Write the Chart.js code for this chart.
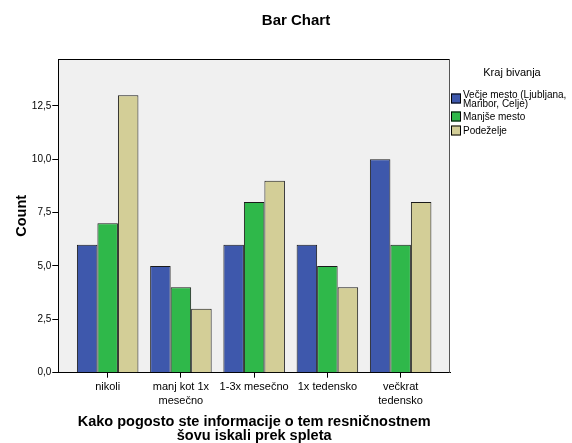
<!DOCTYPE html>
<html>
<head>
<meta charset="utf-8">
<script src="https://cdn.jsdelivr.net/npm/chart.js@4"></script>
<style>
  html, body { margin: 0; padding: 0; background: #fff; }
  #wrap { width: 572px; height: 443px; position: relative; }
</style>
</head>
<body>
<div id="wrap"><canvas id="c" width="572" height="443"></canvas></div>
<script>
// ---- data ----
const categories = ['nikoli', 'manj kot 1x mesečno', '1-3x mesečno', '1x tedensko', 'večkrat tedensko'];
const categoryTickLines = [['nikoli'], ['manj kot 1x', 'mesečno'], ['1-3x mesečno'], ['1x tedensko'], ['večkrat', 'tedensko']];
const seriesNames = ['Večje mesto (Ljubljana, Maribor, Celje)', 'Manjše mesto', 'Podeželje'];
const legendLines = [['Večje mesto (Ljubljana,', 'Maribor, Celje)'], ['Manjše mesto'], ['Podeželje']];
const vecjeMesto = [6, 5, 6, 6, 10];
const manjseMesto = [7, 4, 8, 5, 6];
const podezelje = [13, 3, 9, 4, 8];
const yTicks = [0, 2.5, 5, 7.5, 10, 12.5];
const chartTitle = 'Bar Chart';
const legendTitle = 'Kraj bivanja';
const yTitle = 'Count';
const xTitle = ['Kako pogosto ste informacije o tem resničnostnem', 'šovu iskali prek spleta'];

const colors = ['#3E58AC', '#2FB84A', '#D3CE97'];
const FONT = '"Liberation Sans", Arial, sans-serif';

const allSeries = [vecjeMesto, manjseMesto, podezelje];

const bgPlugin = {
  id: 'bgPlugin',
  beforeDraw(chart) {
    const { ctx, chartArea: a } = chart;
    ctx.save();
    ctx.fillStyle = '#F0F0F0';
    ctx.fillRect(a.left, a.top, a.right - a.left, a.bottom - a.top);
    ctx.restore();
  },
  afterDraw(chart) {
    const { ctx, chartArea: a } = chart;
    ctx.save();
    ctx.strokeStyle = '#000';
    ctx.lineWidth = 1;
    ctx.beginPath();
    ctx.moveTo(a.left, a.top + 0.5);
    ctx.lineTo(a.right, a.top + 0.5);
    ctx.stroke();
    ctx.strokeStyle = '#555';
    ctx.beginPath();
    ctx.moveTo(a.right - 0.5, a.top);
    ctx.lineTo(a.right - 0.5, a.bottom);
    ctx.stroke();
    // main title
    ctx.fillStyle = '#000';
    ctx.font = 'bold 15px ' + FONT;
    ctx.textAlign = 'center';
    ctx.textBaseline = 'middle';
    ctx.fillText(chartTitle, 296, 20.5);
    // legend
    ctx.font = '11px ' + FONT;
    ctx.fillText(legendTitle, 512, 73);
    ctx.font = '10px ' + FONT;
    ctx.textAlign = 'left';
    const boxCenters = [98.5, 116.5, 130.5];
    const textStarts = [95, 117, 131];
    chart.data.datasets.forEach((ds, i) => {
      const cy = boxCenters[i];
      ctx.fillStyle = ds.backgroundColor;
      ctx.fillRect(451, cy - 5, 10, 10);
      ctx.strokeStyle = '#000';
      ctx.strokeRect(451.5, cy - 4.5, 9, 9);
      ctx.fillStyle = '#000';
      legendLines[i].forEach((ln, j) => ctx.fillText(ln, 463, textStarts[i] + j * 9.5));
    });
    ctx.restore();
  }
};

new Chart(document.getElementById('c'), {
  type: 'bar',
  data: {
    datasets: allSeries.map((s, i) => ({
      label: seriesNames[i],
      data: s.map((v, k) => ({ x: k, y: v })),
      backgroundColor: colors[i],
      borderColor: '#1a1a1a',
      borderWidth: 1,
      categoryPercentage: 0.84,
      barPercentage: 1
    }))
  },
  options: {
    responsive: false,
    animation: false,
    devicePixelRatio: 1,
    layout: { padding: { top: 59, right: 122, left: 0, bottom: 0 } },
    plugins: { legend: { display: false }, tooltip: { enabled: false }, title: { display: false } },
    scales: {
      x: {
        type: 'linear',
        min: -0.674,
        max: 4.674,
        offset: false,
        afterBuildTicks(scale) { scale.ticks = categories.map((_, i) => ({ value: i })); },
        afterFit(scale) { scale.height = 70.3; },
        ticks: {
          autoSkip: false,
          maxRotation: 0,
          color: '#000',
          font: { family: FONT, size: 11 },
          padding: 3,
          callback: (v) => categoryTickLines[v]
        },
        grid: { display: true, drawOnChartArea: false, drawTicks: true, tickLength: 5, color: '#000', offset: false },
        border: { display: true, color: '#000', width: 1 },
        title: {
          display: true,
          text: xTitle,
          color: '#000',
          font: { family: FONT, size: 14.5, weight: 'bold', lineHeight: 0.95 },
          padding: { top: 0, bottom: 0.5 }
        }
      },
      y: {
        min: 0,
        max: 14.7,
        afterBuildTicks(scale) { scale.ticks = yTicks.map(v => ({ value: v })); },
        afterFit(scale) { scale.width = 58.3; },
        ticks: {
          color: '#000',
          font: { family: FONT, size: 10 },
          padding: 1,
          callback: (v) => v.toFixed(1).replace('.', ',')
        },
        grid: { display: true, drawOnChartArea: false, drawTicks: true, tickLength: 6, color: '#000' },
        border: { display: true, color: '#000', width: 1 },
        title: {
          display: true,
          text: yTitle,
          color: '#000',
          font: { family: FONT, size: 14.5, weight: 'bold' },
          padding: { top: 13, bottom: 0 }
        }
      }
    }
  },
  plugins: [bgPlugin]
});
</script>
</body>
</html>
